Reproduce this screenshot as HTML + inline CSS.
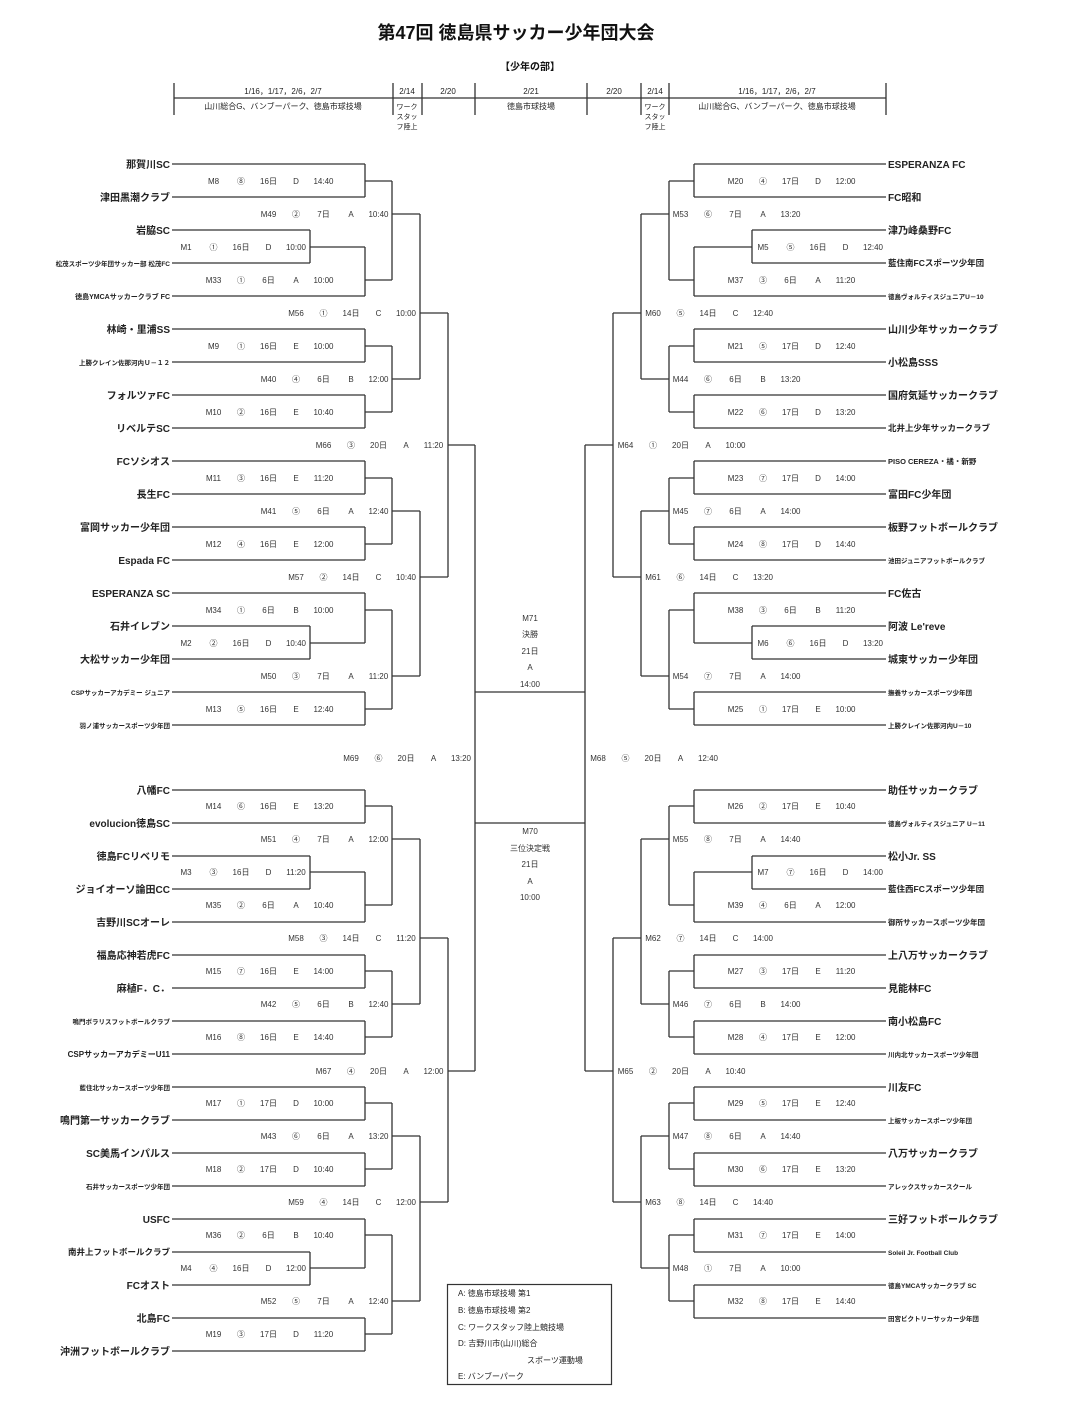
<!DOCTYPE html>
<html><head><meta charset="utf-8"><style>
html,body{margin:0;padding:0;background:#fff;}
svg{display:block;font-family:"Liberation Sans","Noto Sans CJK JP",sans-serif;}
.l{fill:none;stroke:#333;stroke-width:1.3;}
.m{font-size:8px;fill:#333;text-anchor:middle;}
.tl{font-size:10px;font-weight:bold;fill:#222;text-anchor:end;}
.tr{font-size:10px;font-weight:bold;fill:#222;text-anchor:start;}
.s{font-size:6.5px;}
.md{font-size:8.5px;}
.h{font-size:8px;fill:#222;text-anchor:middle;}
</style></head><body>
<svg width="1068" height="1404" viewBox="0 0 1068 1404" xmlns="http://www.w3.org/2000/svg">
<text x="516" y="39" style="font-size:18px;font-weight:bold;text-anchor:middle;fill:#111">第47回 徳島県サッカー少年団大会</text>
<text x="530" y="70" style="font-size:10px;font-weight:bold;text-anchor:middle;fill:#111">【少年の部】</text>
<path class="l" d="M174 83V115M393 83V115M422 83V115M475 83V115M587 83V115M641 83V115M669 83V115M886 83V115M174 98H886"/>
<text class="h" x="283" y="94">1/16，1/17，2/6，2/7</text>
<text class="h" x="407" y="94">2/14</text>
<text class="h" x="448" y="94">2/20</text>
<text class="h" x="531" y="94">2/21</text>
<text class="h" x="614" y="94">2/20</text>
<text class="h" x="655" y="94">2/14</text>
<text class="h" x="777" y="94">1/16，1/17，2/6，2/7</text>
<text class="h" x="283" y="109">山川総合G、バンブーパーク、徳島市球技場</text>
<text class="h" x="531" y="109">徳島市球技場</text>
<text class="h" x="777" y="109">山川総合G、バンブーパーク、徳島市球技場</text>
<text class="h" x="407" y="109" style="font-size:7px">ワーク</text><text class="h" x="407" y="119" style="font-size:7px">スタッ</text><text class="h" x="407" y="129" style="font-size:7px">フ陸上</text>
<text class="h" x="655" y="109" style="font-size:7px">ワーク</text><text class="h" x="655" y="119" style="font-size:7px">スタッ</text><text class="h" x="655" y="129" style="font-size:7px">フ陸上</text>

<!-- left lines -->
<path class="l" d="M172 164H365M172 197H365M172 296H365M172 329H365M172 362H365M172 395H365M172 428H365M172 461H365M172 494H365M172 527H365M172 560H365M172 593H365M172 692H365M172 725H365M172 790H365M172 823H365M172 922H365M172 955H365M172 988H365M172 1021H365M172 1054H365M172 1087H365M172 1120H365M172 1153H365M172 1186H365M172 1219H365M172 1318H365M172 1351H365
M172 230H310M172 263H310M172 626H310M172 659H310M172 856H310M172 889H310M172 1252H310M172 1285H310
M310 230V263M310 626V659M310 856V889M310 1252V1285M310 247H365M310 643H365M310 872H365M310 1268H365
M365 164V197M365 247V296M365 329V362M365 395V428M365 461V494M365 527V560M365 593V643M365 692V725M365 790V823M365 872V922M365 955V988M365 1021V1054M365 1087V1120M365 1153V1186M365 1219V1268M365 1318V1351
M365 181H392M365 280H392M365 346H392M365 412H392M365 478H392M365 544H392M365 610H392M365 709H392M365 806H392M365 905H392M365 971H392M365 1037H392M365 1103H392M365 1169H392M365 1235H392M365 1334H392
M392 181V280M392 346V412M392 478V544M392 610V709M392 806V905M392 971V1037M392 1103V1169M392 1235V1334
M392 214H420M392 379H420M392 511H420M392 676H420M392 839H420M392 1004H420M392 1136H420M392 1301H420
M420 214V379M420 511V676M420 839V1004M420 1136V1301M420 313H448M420 577H448M420 938H448M420 1202H448
M448 313V577M448 938V1202M448 445H475M448 1071H475M475 445V1071M475 692H585M475 823H585"/>
<!-- right lines -->
<path class="l" d="M886 164H694M886 197H694M886 296H694M886 329H694M886 362H694M886 395H694M886 428H694M886 461H694M886 494H694M886 527H694M886 560H694M886 593H694M886 692H694M886 725H694M886 790H694M886 823H694M886 922H694M886 955H694M886 988H694M886 1021H694M886 1054H694M886 1087H694M886 1120H694M886 1153H694M886 1186H694M886 1219H694M886 1252H694M886 1285H694M886 1318H694
M886 230H752M886 263H752M886 626H752M886 659H752M886 856H752M886 889H752
M752 230V263M752 626V659M752 856V889M752 247H694M752 643H694M752 872H694
M694 164V197M694 247V296M694 329V362M694 395V428M694 461V494M694 527V560M694 593V643M694 692V725M694 790V823M694 872V922M694 955V988M694 1021V1054M694 1087V1120M694 1153V1186M694 1219V1252M694 1285V1318
M694 181H669M694 280H669M694 346H669M694 412H669M694 478H669M694 544H669M694 610H669M694 709H669M694 806H669M694 905H669M694 971H669M694 1037H669M694 1103H669M694 1169H669M694 1235H669M694 1301H669
M669 181V280M669 346V412M669 478V544M669 610V709M669 806V905M669 971V1037M669 1103V1169M669 1235V1301
M669 214H641M669 379H641M669 511H641M669 676H641M669 839H641M669 1004H641M669 1136H641M669 1268H641
M641 214V379M641 511V676M641 839V1004M641 1136V1268M641 313H613M641 577H613M641 938H613M641 1202H613
M613 313V577M613 938V1202M613 445H585M613 1071H585M585 445V1071"/>

<!-- left team names -->
<g class="tl">
<text x="170" y="168">那賀川SC</text>
<text x="170" y="201">津田黒潮クラブ</text>
<text x="170" y="234">岩脇SC</text>
<text x="170" y="266" class="s">松茂スポーツ少年団サッカー部 松茂FC</text>
<text x="170" y="299" style="font-size:7px">徳島YMCAサッカークラブ FC</text>
<text x="170" y="333">林崎・里浦SS</text>
<text x="170" y="365" class="s">上勝クレイン佐那河内Ｕ－１２</text>
<text x="170" y="399">フォルツァFC</text>
<text x="170" y="432">リベルテSC</text>
<text x="170" y="465">FCソシオス</text>
<text x="170" y="498">長生FC</text>
<text x="170" y="531">富岡サッカー少年団</text>
<text x="170" y="564">Espada FC</text>
<text x="170" y="597">ESPERANZA SC</text>
<text x="170" y="630">石井イレブン</text>
<text x="170" y="663">大松サッカー少年団</text>
<text x="170" y="695" class="s">CSPサッカーアカデミー ジュニア</text>
<text x="170" y="728" class="s">羽ノ浦サッカースポーツ少年団</text>
<text x="170" y="794">八幡FC</text>
<text x="170" y="827">evolucion徳島SC</text>
<text x="170" y="860">徳島FCリベリモ</text>
<text x="170" y="893">ジョイオーソ論田CC</text>
<text x="170" y="926">吉野川SCオーレ</text>
<text x="170" y="959">福島応神若虎FC</text>
<text x="170" y="992">麻植F．C．</text>
<text x="170" y="1024" class="s">鳴門ボラリスフットボールクラブ</text>
<text x="170" y="1057" style="font-size:8px">CSPサッカーアカデミーU11</text>
<text x="170" y="1090" class="s">藍住北サッカースポーツ少年団</text>
<text x="170" y="1124">鳴門第一サッカークラブ</text>
<text x="170" y="1157">SC美馬インパルス</text>
<text x="170" y="1189" class="s">石井サッカースポーツ少年団</text>
<text x="170" y="1223">USFC</text>
<text x="170" y="1255" style="font-size:8.5px">南井上フットボールクラブ</text>
<text x="170" y="1289">FCオスト</text>
<text x="170" y="1322">北島FC</text>
<text x="170" y="1355">沖洲フットボールクラブ</text>
</g>
<!-- right team names -->
<g class="tr">
<text x="888" y="168">ESPERANZA FC</text>
<text x="888" y="201">FC昭和</text>
<text x="888" y="234">津乃峰桑野FC</text>
<text x="888" y="266" class="md">藍住南FCスポーツ少年団</text>
<text x="888" y="299" class="s">徳島ヴォルティスジュニアU－10</text>
<text x="888" y="333">山川少年サッカークラブ</text>
<text x="888" y="366">小松島SSS</text>
<text x="888" y="399">国府気延サッカークラブ</text>
<text x="888" y="431" class="md">北井上少年サッカークラブ</text>
<text x="888" y="464" style="font-size:7.5px">PISO CEREZA・橘・新野</text>
<text x="888" y="498">富田FC少年団</text>
<text x="888" y="531">板野フットボールクラブ</text>
<text x="888" y="563" class="s">池田ジュニアフットボールクラブ</text>
<text x="888" y="597">FC佐古</text>
<text x="888" y="630">阿波 Le'reve</text>
<text x="888" y="663">城東サッカー少年団</text>
<text x="888" y="695" class="s">撫養サッカースポーツ少年団</text>
<text x="888" y="728" class="s">上勝クレイン佐那河内U－10</text>
<text x="888" y="794">助任サッカークラブ</text>
<text x="888" y="826" class="s">徳島ヴォルティスジュニア U－11</text>
<text x="888" y="860">松小Jr. SS</text>
<text x="888" y="892" class="md">藍住西FCスポーツ少年団</text>
<text x="888" y="925" style="font-size:7.5px">御所サッカースポーツ少年団</text>
<text x="888" y="959">上八万サッカークラブ</text>
<text x="888" y="992">見能林FC</text>
<text x="888" y="1025">南小松島FC</text>
<text x="888" y="1057" class="s">川内北サッカースポーツ少年団</text>
<text x="888" y="1091">川友FC</text>
<text x="888" y="1123" class="s">上板サッカースポーツ少年団</text>
<text x="888" y="1157">八万サッカークラブ</text>
<text x="888" y="1189" class="s">アレックスサッカースクール</text>
<text x="888" y="1223">三好フットボールクラブ</text>
<text x="888" y="1255" class="s">Soleil Jr. Football Club</text>
<text x="888" y="1288" class="s">徳島YMCAサッカークラブ SC</text>
<text x="888" y="1321" class="s">田宮ビクトリーサッカー少年団</text>
</g>

<!-- left match labels -->
<g class="m">
<text y="184"><tspan x="213.5">M8</tspan><tspan x="241">⑧</tspan><tspan x="268.5">16日</tspan><tspan x="296">D</tspan><tspan x="323.5">14:40</tspan></text>
<text y="217"><tspan x="268.5">M49</tspan><tspan x="296">②</tspan><tspan x="323.5">7日</tspan><tspan x="351">A</tspan><tspan x="378.5">10:40</tspan></text>
<text y="250"><tspan x="186">M1</tspan><tspan x="213.5">①</tspan><tspan x="241">16日</tspan><tspan x="268.5">D</tspan><tspan x="296">10:00</tspan></text>
<text y="283"><tspan x="213.5">M33</tspan><tspan x="241">①</tspan><tspan x="268.5">6日</tspan><tspan x="296">A</tspan><tspan x="323.5">10:00</tspan></text>
<text y="316"><tspan x="296">M56</tspan><tspan x="323.5">①</tspan><tspan x="351">14日</tspan><tspan x="378.5">C</tspan><tspan x="406">10:00</tspan></text>
<text y="349"><tspan x="213.5">M9</tspan><tspan x="241">①</tspan><tspan x="268.5">16日</tspan><tspan x="296">E</tspan><tspan x="323.5">10:00</tspan></text>
<text y="382"><tspan x="268.5">M40</tspan><tspan x="296">④</tspan><tspan x="323.5">6日</tspan><tspan x="351">B</tspan><tspan x="378.5">12:00</tspan></text>
<text y="415"><tspan x="213.5">M10</tspan><tspan x="241">②</tspan><tspan x="268.5">16日</tspan><tspan x="296">E</tspan><tspan x="323.5">10:40</tspan></text>
<text y="448"><tspan x="323.5">M66</tspan><tspan x="351">③</tspan><tspan x="378.5">20日</tspan><tspan x="406">A</tspan><tspan x="433.5">11:20</tspan></text>
<text y="481"><tspan x="213.5">M11</tspan><tspan x="241">③</tspan><tspan x="268.5">16日</tspan><tspan x="296">E</tspan><tspan x="323.5">11:20</tspan></text>
<text y="514"><tspan x="268.5">M41</tspan><tspan x="296">⑤</tspan><tspan x="323.5">6日</tspan><tspan x="351">A</tspan><tspan x="378.5">12:40</tspan></text>
<text y="547"><tspan x="213.5">M12</tspan><tspan x="241">④</tspan><tspan x="268.5">16日</tspan><tspan x="296">E</tspan><tspan x="323.5">12:00</tspan></text>
<text y="580"><tspan x="296">M57</tspan><tspan x="323.5">②</tspan><tspan x="351">14日</tspan><tspan x="378.5">C</tspan><tspan x="406">10:40</tspan></text>
<text y="613"><tspan x="213.5">M34</tspan><tspan x="241">①</tspan><tspan x="268.5">6日</tspan><tspan x="296">B</tspan><tspan x="323.5">10:00</tspan></text>
<text y="646"><tspan x="186">M2</tspan><tspan x="213.5">②</tspan><tspan x="241">16日</tspan><tspan x="268.5">D</tspan><tspan x="296">10:40</tspan></text>
<text y="679"><tspan x="268.5">M50</tspan><tspan x="296">③</tspan><tspan x="323.5">7日</tspan><tspan x="351">A</tspan><tspan x="378.5">11:20</tspan></text>
<text y="712"><tspan x="213.5">M13</tspan><tspan x="241">⑤</tspan><tspan x="268.5">16日</tspan><tspan x="296">E</tspan><tspan x="323.5">12:40</tspan></text>
<text y="761"><tspan x="351">M69</tspan><tspan x="378.5">⑥</tspan><tspan x="406">20日</tspan><tspan x="433.5">A</tspan><tspan x="461">13:20</tspan></text>
<text y="809"><tspan x="213.5">M14</tspan><tspan x="241">⑥</tspan><tspan x="268.5">16日</tspan><tspan x="296">E</tspan><tspan x="323.5">13:20</tspan></text>
<text y="842"><tspan x="268.5">M51</tspan><tspan x="296">④</tspan><tspan x="323.5">7日</tspan><tspan x="351">A</tspan><tspan x="378.5">12:00</tspan></text>
<text y="875"><tspan x="186">M3</tspan><tspan x="213.5">③</tspan><tspan x="241">16日</tspan><tspan x="268.5">D</tspan><tspan x="296">11:20</tspan></text>
<text y="908"><tspan x="213.5">M35</tspan><tspan x="241">②</tspan><tspan x="268.5">6日</tspan><tspan x="296">A</tspan><tspan x="323.5">10:40</tspan></text>
<text y="941"><tspan x="296">M58</tspan><tspan x="323.5">③</tspan><tspan x="351">14日</tspan><tspan x="378.5">C</tspan><tspan x="406">11:20</tspan></text>
<text y="974"><tspan x="213.5">M15</tspan><tspan x="241">⑦</tspan><tspan x="268.5">16日</tspan><tspan x="296">E</tspan><tspan x="323.5">14:00</tspan></text>
<text y="1007"><tspan x="268.5">M42</tspan><tspan x="296">⑤</tspan><tspan x="323.5">6日</tspan><tspan x="351">B</tspan><tspan x="378.5">12:40</tspan></text>
<text y="1040"><tspan x="213.5">M16</tspan><tspan x="241">⑧</tspan><tspan x="268.5">16日</tspan><tspan x="296">E</tspan><tspan x="323.5">14:40</tspan></text>
<text y="1074"><tspan x="323.5">M67</tspan><tspan x="351">④</tspan><tspan x="378.5">20日</tspan><tspan x="406">A</tspan><tspan x="433.5">12:00</tspan></text>
<text y="1106"><tspan x="213.5">M17</tspan><tspan x="241">①</tspan><tspan x="268.5">17日</tspan><tspan x="296">D</tspan><tspan x="323.5">10:00</tspan></text>
<text y="1139"><tspan x="268.5">M43</tspan><tspan x="296">⑥</tspan><tspan x="323.5">6日</tspan><tspan x="351">A</tspan><tspan x="378.5">13:20</tspan></text>
<text y="1172"><tspan x="213.5">M18</tspan><tspan x="241">②</tspan><tspan x="268.5">17日</tspan><tspan x="296">D</tspan><tspan x="323.5">10:40</tspan></text>
<text y="1205"><tspan x="296">M59</tspan><tspan x="323.5">④</tspan><tspan x="351">14日</tspan><tspan x="378.5">C</tspan><tspan x="406">12:00</tspan></text>
<text y="1238"><tspan x="213.5">M36</tspan><tspan x="241">②</tspan><tspan x="268.5">6日</tspan><tspan x="296">B</tspan><tspan x="323.5">10:40</tspan></text>
<text y="1271"><tspan x="186">M4</tspan><tspan x="213.5">④</tspan><tspan x="241">16日</tspan><tspan x="268.5">D</tspan><tspan x="296">12:00</tspan></text>
<text y="1304"><tspan x="268.5">M52</tspan><tspan x="296">⑤</tspan><tspan x="323.5">7日</tspan><tspan x="351">A</tspan><tspan x="378.5">12:40</tspan></text>
<text y="1337"><tspan x="213.5">M19</tspan><tspan x="241">③</tspan><tspan x="268.5">17日</tspan><tspan x="296">D</tspan><tspan x="323.5">11:20</tspan></text>
</g>
<!-- right match labels -->
<g class="m">
<text y="184"><tspan x="735.5">M20</tspan><tspan x="763">④</tspan><tspan x="790.5">17日</tspan><tspan x="818">D</tspan><tspan x="845.5">12:00</tspan></text>
<text y="217"><tspan x="680.5">M53</tspan><tspan x="708">⑥</tspan><tspan x="735.5">7日</tspan><tspan x="763">A</tspan><tspan x="790.5">13:20</tspan></text>
<text y="250"><tspan x="763">M5</tspan><tspan x="790.5">⑤</tspan><tspan x="818">16日</tspan><tspan x="845.5">D</tspan><tspan x="873">12:40</tspan></text>
<text y="283"><tspan x="735.5">M37</tspan><tspan x="763">③</tspan><tspan x="790.5">6日</tspan><tspan x="818">A</tspan><tspan x="845.5">11:20</tspan></text>
<text y="316"><tspan x="653">M60</tspan><tspan x="680.5">⑤</tspan><tspan x="708">14日</tspan><tspan x="735.5">C</tspan><tspan x="763">12:40</tspan></text>
<text y="349"><tspan x="735.5">M21</tspan><tspan x="763">⑤</tspan><tspan x="790.5">17日</tspan><tspan x="818">D</tspan><tspan x="845.5">12:40</tspan></text>
<text y="382"><tspan x="680.5">M44</tspan><tspan x="708">⑥</tspan><tspan x="735.5">6日</tspan><tspan x="763">B</tspan><tspan x="790.5">13:20</tspan></text>
<text y="415"><tspan x="735.5">M22</tspan><tspan x="763">⑥</tspan><tspan x="790.5">17日</tspan><tspan x="818">D</tspan><tspan x="845.5">13:20</tspan></text>
<text y="448"><tspan x="625.5">M64</tspan><tspan x="653">①</tspan><tspan x="680.5">20日</tspan><tspan x="708">A</tspan><tspan x="735.5">10:00</tspan></text>
<text y="481"><tspan x="735.5">M23</tspan><tspan x="763">⑦</tspan><tspan x="790.5">17日</tspan><tspan x="818">D</tspan><tspan x="845.5">14:00</tspan></text>
<text y="514"><tspan x="680.5">M45</tspan><tspan x="708">⑦</tspan><tspan x="735.5">6日</tspan><tspan x="763">A</tspan><tspan x="790.5">14:00</tspan></text>
<text y="547"><tspan x="735.5">M24</tspan><tspan x="763">⑧</tspan><tspan x="790.5">17日</tspan><tspan x="818">D</tspan><tspan x="845.5">14:40</tspan></text>
<text y="580"><tspan x="653">M61</tspan><tspan x="680.5">⑥</tspan><tspan x="708">14日</tspan><tspan x="735.5">C</tspan><tspan x="763">13:20</tspan></text>
<text y="613"><tspan x="735.5">M38</tspan><tspan x="763">③</tspan><tspan x="790.5">6日</tspan><tspan x="818">B</tspan><tspan x="845.5">11:20</tspan></text>
<text y="646"><tspan x="763">M6</tspan><tspan x="790.5">⑥</tspan><tspan x="818">16日</tspan><tspan x="845.5">D</tspan><tspan x="873">13:20</tspan></text>
<text y="679"><tspan x="680.5">M54</tspan><tspan x="708">⑦</tspan><tspan x="735.5">7日</tspan><tspan x="763">A</tspan><tspan x="790.5">14:00</tspan></text>
<text y="712"><tspan x="735.5">M25</tspan><tspan x="763">①</tspan><tspan x="790.5">17日</tspan><tspan x="818">E</tspan><tspan x="845.5">10:00</tspan></text>
<text y="761"><tspan x="598">M68</tspan><tspan x="625.5">⑤</tspan><tspan x="653">20日</tspan><tspan x="680.5">A</tspan><tspan x="708">12:40</tspan></text>
<text y="809"><tspan x="735.5">M26</tspan><tspan x="763">②</tspan><tspan x="790.5">17日</tspan><tspan x="818">E</tspan><tspan x="845.5">10:40</tspan></text>
<text y="842"><tspan x="680.5">M55</tspan><tspan x="708">⑧</tspan><tspan x="735.5">7日</tspan><tspan x="763">A</tspan><tspan x="790.5">14:40</tspan></text>
<text y="875"><tspan x="763">M7</tspan><tspan x="790.5">⑦</tspan><tspan x="818">16日</tspan><tspan x="845.5">D</tspan><tspan x="873">14:00</tspan></text>
<text y="908"><tspan x="735.5">M39</tspan><tspan x="763">④</tspan><tspan x="790.5">6日</tspan><tspan x="818">A</tspan><tspan x="845.5">12:00</tspan></text>
<text y="941"><tspan x="653">M62</tspan><tspan x="680.5">⑦</tspan><tspan x="708">14日</tspan><tspan x="735.5">C</tspan><tspan x="763">14:00</tspan></text>
<text y="974"><tspan x="735.5">M27</tspan><tspan x="763">③</tspan><tspan x="790.5">17日</tspan><tspan x="818">E</tspan><tspan x="845.5">11:20</tspan></text>
<text y="1007"><tspan x="680.5">M46</tspan><tspan x="708">⑦</tspan><tspan x="735.5">6日</tspan><tspan x="763">B</tspan><tspan x="790.5">14:00</tspan></text>
<text y="1040"><tspan x="735.5">M28</tspan><tspan x="763">④</tspan><tspan x="790.5">17日</tspan><tspan x="818">E</tspan><tspan x="845.5">12:00</tspan></text>
<text y="1074"><tspan x="625.5">M65</tspan><tspan x="653">②</tspan><tspan x="680.5">20日</tspan><tspan x="708">A</tspan><tspan x="735.5">10:40</tspan></text>
<text y="1106"><tspan x="735.5">M29</tspan><tspan x="763">⑤</tspan><tspan x="790.5">17日</tspan><tspan x="818">E</tspan><tspan x="845.5">12:40</tspan></text>
<text y="1139"><tspan x="680.5">M47</tspan><tspan x="708">⑧</tspan><tspan x="735.5">6日</tspan><tspan x="763">A</tspan><tspan x="790.5">14:40</tspan></text>
<text y="1172"><tspan x="735.5">M30</tspan><tspan x="763">⑥</tspan><tspan x="790.5">17日</tspan><tspan x="818">E</tspan><tspan x="845.5">13:20</tspan></text>
<text y="1205"><tspan x="653">M63</tspan><tspan x="680.5">⑧</tspan><tspan x="708">14日</tspan><tspan x="735.5">C</tspan><tspan x="763">14:40</tspan></text>
<text y="1238"><tspan x="735.5">M31</tspan><tspan x="763">⑦</tspan><tspan x="790.5">17日</tspan><tspan x="818">E</tspan><tspan x="845.5">14:00</tspan></text>
<text y="1271"><tspan x="680.5">M48</tspan><tspan x="708">①</tspan><tspan x="735.5">7日</tspan><tspan x="763">A</tspan><tspan x="790.5">10:00</tspan></text>
<text y="1304"><tspan x="735.5">M32</tspan><tspan x="763">⑧</tspan><tspan x="790.5">17日</tspan><tspan x="818">E</tspan><tspan x="845.5">14:40</tspan></text>
</g>
<!-- center -->
<g class="m">
<text x="530" y="621">M71</text><text x="530" y="637">決勝</text><text x="530" y="654">21日</text><text x="530" y="670">A</text><text x="530" y="687">14:00</text>
<text x="530" y="834">M70</text><text x="530" y="851">三位決定戦</text><text x="530" y="867">21日</text><text x="530" y="884">A</text><text x="530" y="900">10:00</text>
</g>
<!-- legend -->
<rect x="447.5" y="1284.5" width="164" height="100" fill="none" stroke="#333" stroke-width="1.2"/>
<g style="font-size:8px;fill:#222">
<text x="458" y="1296">A:  徳島市球技場 第1</text>
<text x="458" y="1313">B:  徳島市球技場 第2</text>
<text x="458" y="1330">C:  ワークスタッフ陸上競技場</text>
<text x="458" y="1346">D:  吉野川市(山川)総合</text>
<text x="527" y="1363">スポーツ運動場</text>
<text x="458" y="1379">E:  バンブーパーク</text>
</g>
</svg>
</body></html>
